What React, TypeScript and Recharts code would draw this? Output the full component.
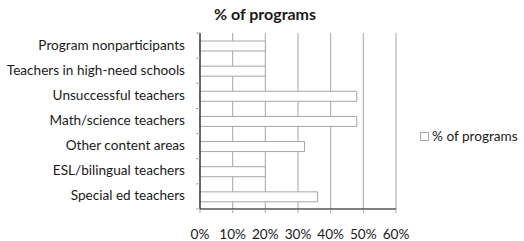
import React from 'react';
import { BarChart, Bar, XAxis, YAxis, CartesianGrid, Legend } from 'recharts';

const categories = [
  'Program nonparticipants',
  'Teachers in high-need schools',
  'Unsuccessful teachers',
  'Math/science teachers',
  'Other content areas',
  'ESL/bilingual teachers',
  'Special ed teachers',
];
const programShare = [20, 20, 48, 48, 32, 20, 36];
const xTicks = [0, 10, 20, 30, 40, 50, 60];

const W = 524;
const H = 241;
const PLOT_TOP = 33;
const PLOT_BOTTOM = 209;
const X_AXIS_H = 30;
const BAND = (PLOT_BOTTOM - PLOT_TOP) / categories.length;
const FONT = 'Lato, "Open Sans", sans-serif';

const data = categories.map((name, i) => ({ name, value: programShare[i] }));

// category labels plus the little tick marks sitting on band boundaries
function CategoryTick(props: any) {
  const { x, y, payload, index } = props;
  const top = y - BAND / 2;
  return (
    <g>
      <line x1={x + 11} x2={x + 15} y1={top} y2={top} stroke="#a6a6a6" />
      {index === categories.length - 1 && (
        <line x1={x + 11} x2={x + 15} y1={top + BAND} y2={top + BAND} stroke="#a6a6a6" />
      )}
      <text x={x} y={y} dy={4} textAnchor="end" fill="#1a1a1a" fontSize={13.6} fontFamily={FONT}>
        {payload.value}
      </text>
    </g>
  );
}

export default function App() {
  return (
    <div style={{ position: 'absolute', left: 0, top: 0, width: W, height: H, background: '#fff' }}>
      <div
        style={{
          position: 'absolute',
          left: 0,
          top: 4,
          width: 530,
          textAlign: 'center',
          fontFamily: FONT,
          fontWeight: 700,
          fontSize: 16,
          lineHeight: '20px',
          color: '#1a1a1a',
        }}
      >
        % of programs
      </div>
      <BarChart
        width={W}
        height={H}
        data={data}
        layout="vertical"
        margin={{ top: PLOT_TOP, bottom: H - PLOT_BOTTOM - X_AXIS_H, left: 0, right: W - 396 }}
      >
        <CartesianGrid horizontal={false} stroke="#a6a6a6" />
        <XAxis
          type="number"
          domain={[0, 60]}
          ticks={xTicks}
          interval={0}
          height={X_AXIS_H}
          tickFormatter={(v: number) => `${v}%`}
          axisLine={{ stroke: '#000' }}
          tickLine={{ stroke: '#a6a6a6' }}
          tickSize={4}
          tickMargin={16}
          tick={{ fill: '#1a1a1a', fontSize: 13.6, fontFamily: FONT }}
        />
        <YAxis
          type="category"
          dataKey="name"
          width={200}
          axisLine={{ stroke: '#000' }}
          tickLine={false}
          tickSize={0}
          tickMargin={15}
          interval={0}
          tick={<CategoryTick />}
        />
        <Legend
          layout="vertical"
          align="center"
          verticalAlign="middle"
          wrapperStyle={{ left: 420, top: 128, width: 104, fontFamily: FONT, fontSize: 13.6 }}
          content={(p: any) => (
            <div style={{ display: 'flex', alignItems: 'center' }}>
              <span
                style={{
                  display: 'inline-block',
                  width: 7,
                  height: 7,
                  border: '1px solid #a6a6a6',
                  background: '#fff',
                  marginRight: 3,
                }}
              />
              <span style={{ color: '#1a1a1a' }}>{p.payload?.[0]?.value ?? '% of programs'}</span>
            </div>
          )}
        />
        <Bar
          dataKey="value"
          name="% of programs"
          fill="#fff"
          stroke="#a6a6a6"
          strokeWidth={1}
          barSize={10}
          isAnimationActive={false}
        />
      </BarChart>
    </div>
  );
}
